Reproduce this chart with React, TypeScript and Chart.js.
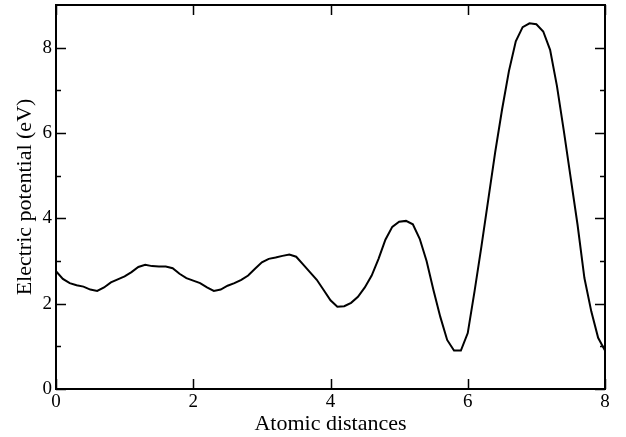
import { useEffect, useRef } from 'react';
import { Chart, registerables } from 'chart.js';

Chart.register(...registerables);

const distances = [
  0.0, 0.1, 0.2, 0.3, 0.4, 0.5, 0.6, 0.7, 0.8, 0.9,
  1.0, 1.1, 1.2, 1.3, 1.4, 1.5, 1.6, 1.7, 1.8, 1.9,
  2.0, 2.1, 2.2, 2.3, 2.4, 2.5, 2.6, 2.7, 2.8, 2.9,
  3.0, 3.1, 3.2, 3.3, 3.4, 3.5, 3.6, 3.7, 3.8, 3.9,
  4.0, 4.1, 4.2, 4.3, 4.4, 4.5, 4.6, 4.7, 4.8, 4.9,
  5.0, 5.1, 5.2, 5.3, 5.4, 5.5, 5.6, 5.7, 5.8, 5.9,
  6.0, 6.1, 6.2, 6.3, 6.4, 6.5, 6.6, 6.7, 6.8, 6.9,
  7.0, 7.1, 7.2, 7.3, 7.4, 7.5, 7.6, 7.7, 7.8, 7.9,
  8.0,
];

const potential = [
  2.76, 2.58, 2.48, 2.43, 2.40, 2.33, 2.30, 2.38, 2.50, 2.57,
  2.64, 2.74, 2.86, 2.91, 2.88, 2.87, 2.87, 2.83, 2.70, 2.60,
  2.54, 2.48, 2.38, 2.30, 2.33, 2.42, 2.48, 2.56, 2.66, 2.82,
  2.97, 3.05, 3.08, 3.12, 3.15, 3.10, 2.92, 2.74, 2.56, 2.32,
  2.08, 1.93, 1.94, 2.02, 2.16, 2.38, 2.66, 3.05, 3.50, 3.80,
  3.92, 3.94, 3.86, 3.52, 3.00, 2.32, 1.69, 1.15, 0.90, 0.90,
  1.31, 2.30, 3.35, 4.45, 5.55, 6.55, 7.45, 8.15, 8.48, 8.57,
  8.55, 8.38, 7.95, 7.10, 6.05, 4.95, 3.85, 2.60, 1.82, 1.20,
  0.90,
];

const xTicks = [0, 2, 4, 6, 8];
const yTicks = [0, 2, 4, 6, 8];
const yMinorTicks = [1, 3, 5, 7];

const FONT = 'Liberation Serif, Times New Roman, serif';

const framePlugin = {
  id: 'frame',
  afterDraw(chart: any) {
    const { ctx, chartArea: a, scales } = chart;
    const major = 10;
    const minor = 5;
    ctx.save();
    ctx.strokeStyle = '#000';
    ctx.lineWidth = 1.5;
    ctx.beginPath();
    for (const v of xTicks) {
      const px = Math.round(scales.x.getPixelForValue(v)) + 0.5;
      ctx.moveTo(px, a.bottom);
      ctx.lineTo(px, a.bottom - major);
      ctx.moveTo(px, a.top);
      ctx.lineTo(px, a.top + major);
    }
    for (const v of yTicks) {
      const py = Math.round(scales.y.getPixelForValue(v)) + 0.5;
      ctx.moveTo(a.left, py);
      ctx.lineTo(a.left + major, py);
      ctx.moveTo(a.right, py);
      ctx.lineTo(a.right - major, py);
    }
    for (const v of yMinorTicks) {
      const py = Math.round(scales.y.getPixelForValue(v)) + 0.5;
      ctx.moveTo(a.left, py);
      ctx.lineTo(a.left + minor, py);
      ctx.moveTo(a.right, py);
      ctx.lineTo(a.right - minor, py);
    }
    ctx.stroke();
    ctx.lineWidth = 2;
    ctx.strokeRect(a.left, a.top, a.right - a.left, a.bottom - a.top);
    ctx.restore();
  },
};

export default function App() {
  const canvasRef = useRef<HTMLCanvasElement | null>(null);

  useEffect(() => {
    if (!canvasRef.current) return;
    const chart = new Chart(canvasRef.current, {
      type: 'scatter',
      data: {
        datasets: [
          {
            data: distances.map((x, i) => ({ x, y: potential[i] })),
            showLine: true,
            borderColor: '#000',
            borderWidth: 2,
            pointRadius: 0,
            tension: 0,
            fill: false,
          },
        ],
      },
      options: {
        responsive: false,
        animation: false,
        devicePixelRatio: 1,
        layout: { padding: { top: 5, right: 21, left: 0, bottom: 0 } },
        plugins: {
          legend: { display: false },
          tooltip: { enabled: false },
        },
        scales: {
          x: {
            type: 'linear',
            min: 0,
            max: 8,
            afterBuildTicks: (s: any) => {
              s.ticks = xTicks.map((v) => ({ value: v }));
            },
            afterFit: (s: any) => {
              s.height = 48;
              s.paddingLeft = 0;
              s.paddingRight = 0;
              s.paddingTop = 0;
              s.paddingBottom = 0;
            },
            grid: { display: false, drawTicks: false },
            border: { display: false },
            ticks: {
              font: { family: FONT, size: 19 },
              color: '#000',
              padding: 2,
              maxRotation: 0,
              autoSkip: false,
            },
            title: {
              display: true,
              text: 'Atomic distances',
              font: { family: FONT, size: 22 },
              color: '#000',
              padding: { top: 0, bottom: 0 },
            },
          },
          y: {
            type: 'linear',
            min: 0,
            max: 9,
            afterBuildTicks: (s: any) => {
              s.ticks = yTicks.map((v) => ({ value: v }));
            },
            afterFit: (s: any) => {
              s.width = 56;
              s.paddingLeft = 0;
              s.paddingRight = 0;
              s.paddingTop = 0;
              s.paddingBottom = 0;
            },
            grid: { display: false, drawTicks: false },
            border: { display: false },
            ticks: {
              font: { family: FONT, size: 19 },
              color: '#000',
              padding: 4,
              autoSkip: false,
            },
            title: {
              display: true,
              text: 'Electric potential (eV)',
              font: { family: FONT, size: 22 },
              color: '#000',
              padding: { top: 12, bottom: 0 },
            },
          },
        },
      },
      plugins: [framePlugin],
    });
    return () => chart.destroy();
  }, []);

  return (
    <div style={{ position: 'absolute', left: 0, top: 0, width: 626, height: 437, background: '#fff' }}>
      <canvas ref={canvasRef} width={626} height={437} />
    </div>
  );
}
